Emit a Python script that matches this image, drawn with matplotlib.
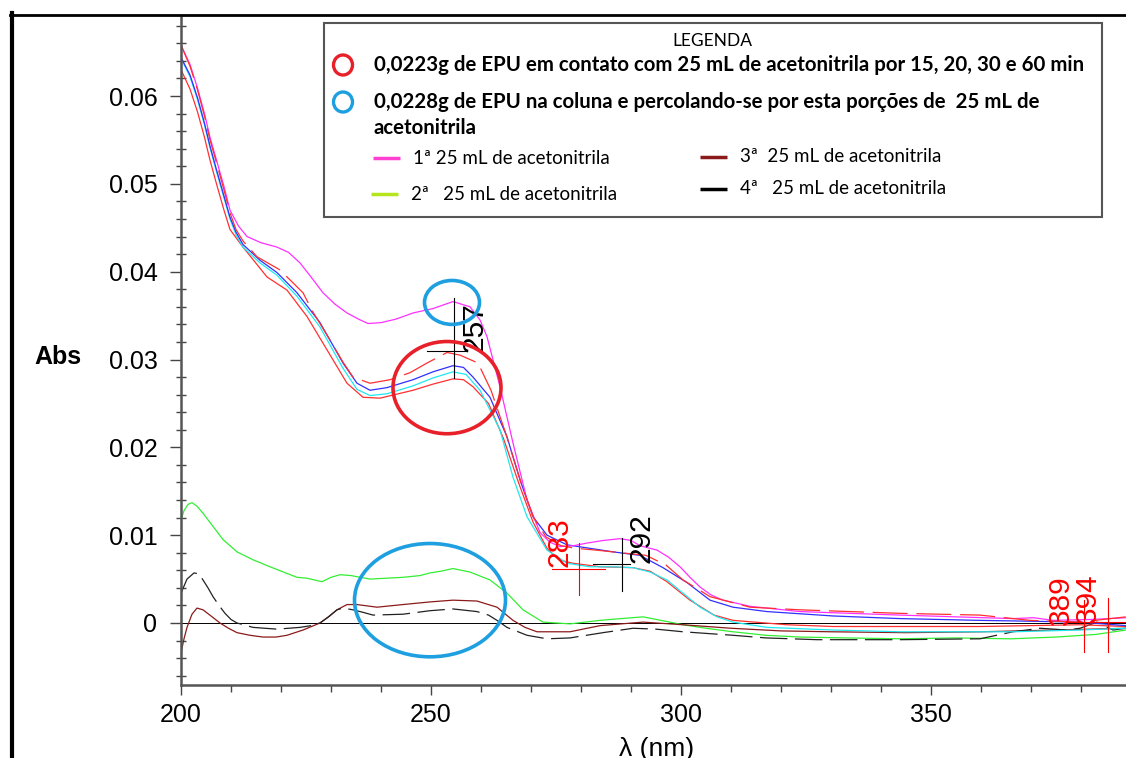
import numpy as np
import matplotlib.pyplot as plt
from matplotlib.patches import Ellipse, Rectangle
from matplotlib.ticker import MultipleLocator

# UV spectra (wavelength in nm, absorbance)
wl_magenta = [200, 201.8, 203.3, 204.7, 205.8, 207.1, 208.6, 209.8, 211.5, 213.2, 216, 219.2, 221.5, 223.8, 226,
              228.4, 230.8, 233.2, 235.5, 237.4, 240, 243, 246.4, 250.4, 254.4, 257.8, 259.8, 261.2, 263.8, 266.4,
              269.2, 271.8, 273.8, 275.8, 278.5, 281.2, 284.5, 287.8, 290, 291.8, 295.2, 297.5, 299.8, 301.8, 303.8,
              306, 308.4, 313.8, 318.8, 323.8, 333.8, 343.8, 355, 366.4, 370.5, 374.4, 382, 389]
abs_magenta = [0.0658, 0.0636, 0.0609, 0.0580, 0.0553, 0.0527, 0.0497, 0.0470, 0.0452, 0.0440, 0.0433, 0.0428, 0.0422,
               0.0410, 0.0394, 0.0376, 0.0363, 0.0353, 0.0346, 0.0341, 0.0342, 0.0346, 0.0353, 0.0358, 0.0366, 0.0360,
               0.0345, 0.0326, 0.0269, 0.0205, 0.0140, 0.0103, 0.0092, 0.0087, 0.0088, 0.0091, 0.0094, 0.0096, 0.0094,
               0.0088, 0.0083, 0.0075, 0.0064, 0.0052, 0.0041, 0.0032, 0.0026, 0.0019, 0.0016, 0.0013, 0.0011, 0.0009,
               0.0007, 0.0005, 0.0006, 0.0003, 0.0004, 0.0006]

wl_blue = [200, 201.8, 203.3, 204.7, 205.8, 207.1, 208.6, 209.8, 211, 212.4, 215.8, 219.2, 223.2, 227.8, 232.4, 235.2,
           237.8, 241.2, 246.4, 250.4, 254.4, 256.5, 258.4, 261.8, 265.2, 267.8, 270.4, 273.2, 277.2, 281.8, 286.4,
           291.8, 296.4, 301.2, 305.8, 310.4, 317.2, 330.4, 343.8, 359.8, 370, 379.8, 389]
abs_blue = [0.0644, 0.0624, 0.0598, 0.0569, 0.0543, 0.0516, 0.0486, 0.0462, 0.0445, 0.0431, 0.0413, 0.0399, 0.0376,
            0.0342, 0.0296, 0.0273, 0.0265, 0.0268, 0.0277, 0.0286, 0.0293, 0.0291, 0.0280, 0.0257, 0.0212, 0.0163,
            0.0121, 0.0100, 0.0089, 0.0085, 0.0081, 0.0077, 0.0063, 0.0046, 0.0026, 0.0018, 0.0013, 0.0008, 0.0005,
            0.0003, 0.0002, 0.0001, -0.0003]

wl_cyan = [200, 201.8, 203.3, 204.7, 205.8, 207.1, 208.6, 209.8, 211, 212.4, 215.8, 219.2, 223.2, 227.8, 232.4, 235.2,
           237.8, 241.2, 246.4, 250.4, 254.4, 257, 259.8, 263.8, 266.4, 269.2, 273.2, 277.2, 281.8, 286.4, 290.4,
           293.8, 297.2, 300.4, 303.8, 307.2, 310.4, 317.2, 330.4, 343.8, 359.8, 366.4, 379.8, 389]
abs_cyan = [0.0643, 0.0622, 0.0596, 0.0567, 0.0541, 0.0514, 0.0484, 0.0460, 0.0442, 0.0428, 0.0410, 0.0396, 0.0372,
            0.0337, 0.0290, 0.0266, 0.0259, 0.0261, 0.0270, 0.0279, 0.0286, 0.0283, 0.0265, 0.0220, 0.0166, 0.0121,
            0.0083, 0.0068, 0.0064, 0.0064, 0.0063, 0.0058, 0.0049, 0.0034, 0.0018, 0.0007, 0.0001, -0.0005, -0.0008,
            -0.0010, -0.0010, -0.0010, -0.0008, -0.0006]

wl_red_up = [200, 201.8, 203.3, 204.7, 205.8, 207.1, 208.6, 209.8, 211, 212.4, 215.2, 219.8, 224.4, 226.4, 229.5,
             232.4, 234.4, 237.8, 241.8, 245.8, 249.2, 253.2, 255.8, 259.4, 262, 265, 268, 270.5, 273, 276, 279, 283,
             288, 293, 297, 300.4, 305.8, 313.8, 323.8, 343.8, 359.8, 369.8, 379.8, 389]
abs_red_up = [0.0658, 0.0634, 0.0607, 0.0577, 0.0550, 0.0524, 0.0493, 0.0467, 0.0448, 0.0435, 0.0417, 0.0402, 0.0376,
              0.0354, 0.0325, 0.0297, 0.0280, 0.0273, 0.0277, 0.0285, 0.0296, 0.0308, 0.0305, 0.0296, 0.0265, 0.0215,
              0.0160, 0.0120, 0.0098, 0.0088, 0.0085, 0.0083, 0.0080, 0.0077, 0.0066, 0.0049, 0.0030, 0.0018, 0.0015,
              0.0011, 0.0009, 0.0003, 0.0001, 0.0007]

wl_red_low = [200, 201.8, 203.3, 204.7, 205.8, 207.1, 208.6, 209.8, 212.4, 217.2, 221.2, 225.2, 229.2, 233.2, 236.4,
              239.8, 246.4, 250.4, 254.4, 256.5, 258.4, 261.5, 264.5, 267.5, 270.4, 273.2, 275.5, 278.4, 283.8, 290.4,
              293.8, 297.2, 301.8, 306.6, 310.4, 321.2, 330.4, 343.8, 359.8, 379.8, 389]
abs_red_low = [0.0630, 0.0608, 0.0582, 0.0553, 0.0527, 0.0500, 0.0470, 0.0448, 0.0428, 0.0394, 0.0379, 0.0349, 0.0311,
               0.0273, 0.0257, 0.0256, 0.0265, 0.0272, 0.0278, 0.0277, 0.0269, 0.0250, 0.0210, 0.0160, 0.0115, 0.0085,
               0.0072, 0.0068, 0.0064, 0.0063, 0.0059, 0.0047, 0.0026, 0.0009, 0.0003, -0.0002, -0.0004, -0.0004,
               -0.0004, -0.0002, -0.0004]

wl_green = [200, 200.6, 201.4, 202.2, 203.2, 204.4, 206.4, 208.4, 211.2, 214.4, 217.8, 220.5, 223.2, 225.2, 228.2, 230,
            231.8, 234, 237.8, 241, 244.4, 247.8, 249.8, 252, 254.4, 257.8, 261.8, 265.2, 268.4, 272.4, 277.8, 283.8,
            288, 292.4, 296, 300.4, 305, 310.4, 317, 323.8, 333, 343.8, 355, 366, 375, 383, 389]
abs_green = [0.0117, 0.0128, 0.0135, 0.0137, 0.0133, 0.0125, 0.0110, 0.0095, 0.0081, 0.0072, 0.0064, 0.0058, 0.0052,
             0.0051, 0.0047, 0.0052, 0.0055, 0.0054, 0.0050, 0.0051, 0.0052, 0.0054, 0.0057, 0.0059, 0.0062, 0.0058,
             0.0049, 0.0034, 0.0015, 0.0001, -0.0001, 0.0003, 0.0005, 0.0007, 0.0003, -0.0002, -0.0006, -0.0010,
             -0.0014, -0.0016, -0.0017, -0.0018, -0.0017, -0.0018, -0.0016, -0.0013, -0.0008]

wl_brown = [200, 200.6, 201.2, 202.2, 203.2, 204.4, 206, 207.8, 209.5, 211.2, 213.8, 216.4, 219, 221.2, 224.4, 227.8,
            229.5, 231.2, 233.2, 235.2, 239.2, 244.4, 249.8, 254.4, 259.2, 263.2, 266.4, 268.8, 271.2, 277.8, 283.8,
            292.4, 300.4, 310, 320, 330, 345, 360, 375, 389]
abs_brown = [-0.0034, -0.0018, -0.0005, 0.0010, 0.0017, 0.0015, 0.0008, 0.0000, -0.0006, -0.0011, -0.0014, -0.0016,
             -0.0016, -0.0014, -0.0008, 0.0000, 0.0007, 0.0015, 0.0021, 0.0021, 0.0018, 0.0021, 0.0024, 0.0026, 0.0025,
             0.0018, 0.0003, -0.0005, -0.0010, -0.0010, -0.0003, 0.0001, -0.0002, -0.0006, -0.0009, -0.0010, -0.0011,
             -0.0010, -0.0008, -0.0006]

wl_black = [200, 201.2, 202.6, 203.6, 204.4, 205.4, 206.4, 207.6, 208.8, 210, 211.2, 214.4, 219.2, 223.8, 226, 227.8,
            229.5, 231.2, 232.4, 234.4, 236.5, 238.4, 244.4, 249.8, 254.4, 259.2, 261.5, 263.2, 265.2, 269.2, 273.2,
            277.8, 284.4, 290.4, 295, 300.4, 310.4, 317, 327.2, 343.8, 359.8, 366.4, 371.8, 377.2, 379.8, 383.2,
            386.4, 389]
abs_black = [0.0034, 0.0050, 0.0057, 0.0056, 0.0049, 0.0040, 0.0030, 0.0020, 0.0011, 0.0004, 0.0000, -0.0005, -0.0007,
             -0.0005, -0.0003, 0.0000, 0.0007, 0.0015, 0.0017, 0.0015, 0.0012, 0.0009, 0.0010, 0.0014, 0.0016, 0.0013,
             0.0009, 0.0003, -0.0005, -0.0014, -0.0018, -0.0017, -0.0011, -0.0006, -0.0007, -0.0010, -0.0014, -0.0017,
             -0.0019, -0.0019, -0.0018, -0.0010, -0.0006, -0.0008, -0.0006, 0.0001, -0.0008, -0.0006]

# peak picks: label, marker x, vertical extent, horizontal bar, label centre x / bottom y
peak_labels = ['257', '292', '283', '389', '394']
peak_colors = ['black', 'black', 'red', 'red', 'red']
peak_x = [254.6, 288.2, 279.6, 380.6, 385.4]
peak_ylo = [0.0279, 0.0036, 0.0032, -0.0033, -0.0033]
peak_yhi = [0.0370, 0.0097, 0.0091, 0.0026, 0.0028]
peak_hx0 = [249.2, 282.4, 274.2, 377.0, 382.0]
peak_hx1 = [257.2, 289.8, 284.8, 384.0, 389.0]
peak_hy = [0.0310, 0.0067, 0.0062, 0.0001, 0.0001]
peak_tx = [258.7, 292.1, 275.7, 375.9, 381.4]
peak_ty = [0.0309, 0.0068, 0.0064, -0.0002, 0.0000]

yticks = [0, 0.01, 0.02, 0.03, 0.04, 0.05, 0.06]
ytick_labels = ['0', '0.01', '0.02', '0.03', '0.04', '0.05', '0.06']
xticks = [200, 250, 300, 350]

W, H = 1126, 758
fig = plt.figure(figsize=(W / 100, H / 100), dpi=100)
ax = fig.add_axes([181 / W, 1 - 685 / H, 1 - 181 / W, (685 - 17) / H])

lw = 0.9
ax.axhline(0, color='black', lw=0.7, zorder=1)
ax.plot(wl_green, abs_green, color='#33ee33', lw=lw)
ax.plot(wl_brown, abs_brown, color='#8b1a1a', lw=lw)
ax.plot(wl_black, abs_black, color='#222222', lw=lw, linestyle=(0, (22, 6)))
ax.plot(wl_red_low, abs_red_low, color='#ff3030', lw=lw)
ax.plot(wl_cyan, abs_cyan, color='#20e8f0', lw=lw)
ax.plot(wl_blue, abs_blue, color='#3030ff', lw=lw)
ax.plot(wl_magenta, abs_magenta, color='#ff30ff', lw=lw)
ax.plot(wl_red_up, abs_red_up, color='#ff3030', lw=lw, linestyle=(0, (28, 7)))

for i in range(len(peak_labels)):
    c = peak_colors[i]
    ax.plot([peak_x[i], peak_x[i]], [peak_ylo[i], peak_yhi[i]], color=c, lw=0.8)
    ax.plot([peak_hx0[i], peak_hx1[i]], [peak_hy[i], peak_hy[i]], color=c, lw=0.8)
    ax.text(peak_tx[i], peak_ty[i], peak_labels[i], color=c, rotation=90, ha='center', va='bottom',
            fontsize=21.5, family='Liberation Sans')

# hand-drawn highlight circles
ax.add_patch(Ellipse((253.2, 0.0268), 21.6, 0.0105, fill=False, ec='#e8202a', lw=2.6, zorder=6))
ax.add_patch(Ellipse((254.2, 0.0365), 11.0, 0.0050, fill=False, ec='#1e9fe0', lw=2.6, zorder=6))
ax.add_patch(Ellipse((249.8, 0.0026), 30.2, 0.0129, fill=False, ec='#1e9fe0', lw=2.6, zorder=6))

ax.set_xlim(200, 389)
ax.set_ylim(-0.00706, 0.0690)
ax.set_xticks(xticks)
ax.set_xticklabels([str(v) for v in xticks])
ax.xaxis.set_minor_locator(MultipleLocator(10))
ax.set_yticks(yticks)
ax.set_yticklabels(ytick_labels)
ax.yaxis.set_minor_locator(MultipleLocator(0.002))
for s in ['top', 'right']:
    ax.spines[s].set_visible(False)
for s in ['left', 'bottom']:
    ax.spines[s].set_color('#555555')
    ax.spines[s].set_linewidth(1.8)
ax.tick_params(axis='y', which='major', direction='out', length=8, width=1, color='#444444', pad=9,
               labelsize=18, labelfontfamily='Liberation Sans')
ax.tick_params(axis='y', which='minor', direction='inout', length=7, width=1, color='#444444')
ax.tick_params(axis='x', which='major', direction='out', length=7, width=1, color='#444444', pad=6,
               labelsize=18, labelfontfamily='Liberation Sans')
ax.tick_params(axis='x', which='minor', direction='out', length=5, width=1, color='#444444')

fig.text(58 / W, 1 - 357 / H, 'Abs', fontsize=18, fontweight='bold', family='Liberation Sans',
         ha='center', va='center')
fig.text(657 / W, 1 - 749 / H, 'λ (nm)', fontsize=19, family='Liberation Sans', ha='center', va='center')

# overlay in pixel coordinates for the frame and the legend box
ov = fig.add_axes([0, 0, 1, 1], zorder=5)
ov.set_xlim(0, W)
ov.set_ylim(H, 0)
ov.axis('off')
ov.plot([12, 12], [13, H], color='black', lw=3)
ov.plot([10, W], [15, 15], color='black', lw=2)

ov.add_patch(Rectangle((324, 23), 1102 - 324, 217 - 23, facecolor='white', edgecolor='#555555', lw=1.5))
lf = 'Lato'
ov.text(712, 41, 'LEGENDA', fontsize=12.5, family=lf, ha='center', va='center')
ov.add_patch(Ellipse((343, 65), 19, 20, fill=False, ec='#e8202a', lw=2.4))
ov.add_patch(Ellipse((343, 102), 19, 20, fill=False, ec='#1e9fe0', lw=2.4))
ov.text(374, 65, '0,0223g de EPU em contato com 25 mL de acetonitrila por 15, 20, 30 e 60 min',
        fontsize=14.7, fontweight='bold', family=lf, va='center')
ov.text(374, 102, '0,0228g de EPU na coluna e percolando-se por esta porções de  25 mL de',
        fontsize=14.7, fontweight='bold', family=lf, va='center')
ov.text(374, 128, 'acetonitrila', fontsize=14.7, fontweight='bold', family=lf, va='center')

leg_names = ['1ª 25 mL de acetonitrila', '2ª   25 mL de acetonitrila',
             '3ª  25 mL de acetonitrila', '4ª   25 mL de acetonitrila']
leg_colors = ['#ff40d0', '#b5e61d', '#8b1a1a', 'black']
leg_x = [373, 371, 700, 700]
leg_y = [158, 194, 157, 189]
for name, c, x, y in zip(leg_names, leg_colors, leg_x, leg_y):
    ov.plot([x, x + 27], [y, y], color=c, lw=2.5, solid_capstyle='butt')
    ov.text(x + 40, y, name, fontsize=13.5, family=lf, va='center')

fig.savefig('out.png', dpi=100)
